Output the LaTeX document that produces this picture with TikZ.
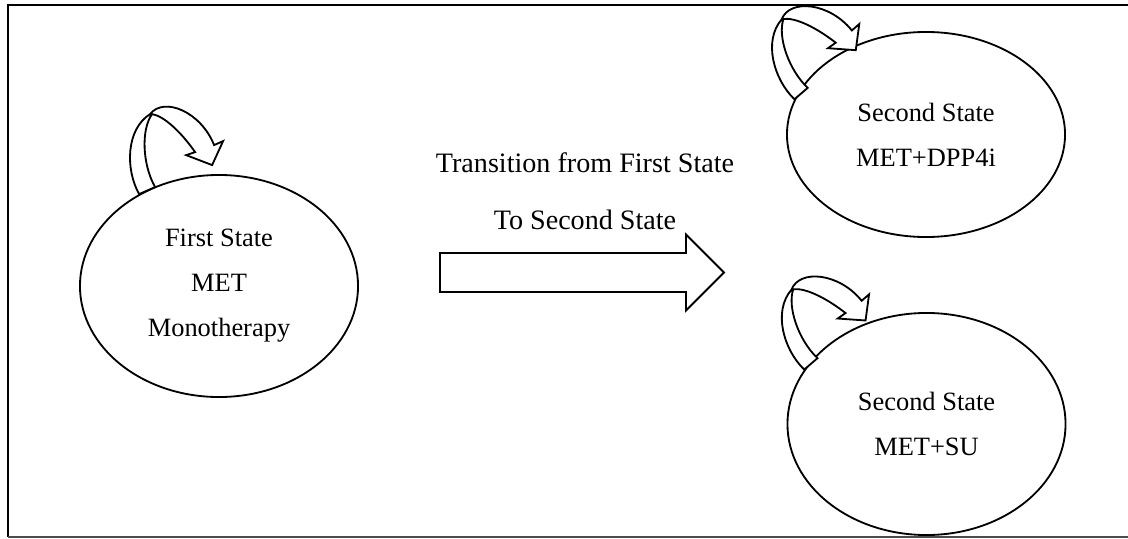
\documentclass[tikz,border=0pt]{standalone}
\usepackage{fontspec}
\setmainfont{Liberation Serif}
\usetikzlibrary{shapes.geometric, shapes.arrows}

\begin{document}
\begin{tikzpicture}[
    x=0.025cm, y=-0.025cm,
    stateell/.style={ellipse, draw, line width=1.3pt, minimum width=6.95cm, minimum height=5.55cm, inner sep=0pt, align=center, font=\fontsize{18.8}{32}\selectfont},
    bigarrow/.style={single arrow, draw, line width=1.3pt, minimum height=7.1cm, minimum width=1.85cm, single arrow head extend=0.4625cm, single arrow tip angle=90, single arrow head indent=0pt, inner xsep=0pt, inner ysep=0.4625cm},
    selfloop/.pic={
        \draw[line width=1.3pt, fill=white] (0,0) .. controls (-14,-25) and (-13,-65) .. (11,-80)
            .. controls (25,-98) and (62,-82) .. (75,-49) -- (84,-53) -- (73,-29) -- (47,-39) -- (56,-42)
            .. controls (42,-62) and (25,-78) .. (13,-80)
            .. controls (2,-65) and (3,-30) .. (16,-7) -- cycle;
    }
]
\useasboundingbox (0,0) rectangle (1128,538);
\draw[line width=1.5pt] (1128,5) -- (8,5) -- (8,537);
\draw[black!70, line width=1pt] (8,537) -- (1128,537);

\node[stateell] (first) at (219,286) {First State\\MET\\Monotherapy};
\node[stateell, minimum height=5.125cm] (secA) at (926,134.5) {Second State\\MET+DPP4i};
\node[stateell] (secB) at (926.5,424) {Second State\\MET+SU};

\pic at (first.131) {selfloop};
\pic[rotate=17] at (secA.165) {selfloop};
\pic[rotate=17] at (secB.156) {selfloop};

\node[bigarrow, anchor=tail] (trans) at (439,272.5) {};
\node[align=center, font=\fontsize{20}{40.5}\selectfont] (translabel) at (585,191) {Transition from First State\\To Second State};

\end{tikzpicture}
\end{document}
